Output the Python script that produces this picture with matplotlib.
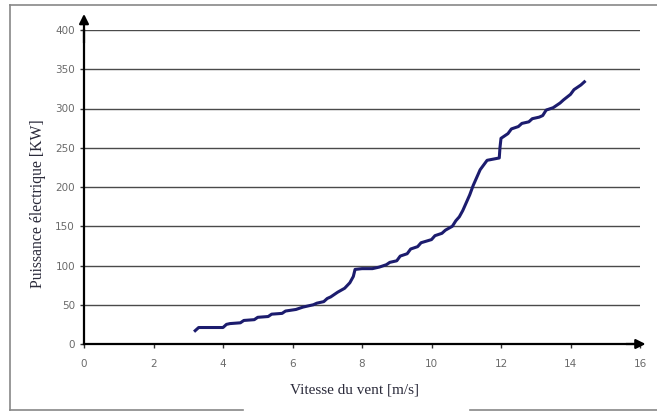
import matplotlib.pyplot as plt
from matplotlib.lines import Line2D

# wind speed [m/s] and electrical power [kW] along the measured power curve
vitesse = [3.2, 3.3, 3.5, 4.0, 4.1, 4.2, 4.5, 4.6, 4.9, 5.0, 5.3, 5.4,
           5.7, 5.8, 6.1, 6.3, 6.6, 6.7, 6.9, 7.0, 7.1, 7.3, 7.5, 7.65,
           7.75, 7.8, 8.0, 8.3, 8.5, 8.7, 8.8, 9.0, 9.1, 9.3, 9.4, 9.6,
           9.7, 10.0, 10.1, 10.3, 10.4, 10.6, 10.7, 10.8, 10.9, 11.0, 11.1,
           11.2, 11.3, 11.4, 11.5, 11.6, 11.95, 11.97, 12.0, 12.2, 12.3,
           12.5, 12.6, 12.8, 12.9, 13.1, 13.2, 13.3, 13.5, 13.7, 13.8,
           14.0, 14.1, 14.3, 14.4]
puissance = [17, 21, 21, 21, 25, 26, 27, 30, 31, 34, 35, 38,
             39, 42, 44, 47, 50, 52, 54, 58, 60, 66, 71, 78,
             86, 95, 96, 96, 98, 101, 104, 106, 112, 115, 121, 124,
             129, 133, 138, 141, 145, 150, 157, 162, 170, 180, 190,
             202, 212, 222, 228, 234, 237, 250, 262, 268, 274,
             277, 281, 283, 287, 289, 291, 298, 301, 307, 311,
             318, 324, 330, 334]

x_ticks = [0, 2, 4, 6, 8, 10, 12, 14, 16]
y_ticks = [0, 50, 100, 150, 200, 250, 300, 350, 400]

fig = plt.figure(figsize=(6.57, 4.12), dpi=100)
ax = fig.add_axes([84 / 657, 1 - 344 / 412, (640 - 84) / 657, (344 - 30) / 412])

for y in y_ticks[1:]:
    ax.axhline(y, color="#4a4a4a", lw=1.0, zorder=1)

ax.plot(vitesse, puissance, color="#1c1c6e", lw=2.2, zorder=3,
        solid_joinstyle="round")

ax.set_xlim(0, 16)
ax.set_ylim(0, 400)
ax.set_xticks(x_ticks)
ax.set_yticks(y_ticks)
ax.tick_params(axis="both", labelsize=7.5, labelcolor="#6a6a6a", length=3,
               color="#333333", width=1)
ax.tick_params(axis="x", pad=7.5)
for lab in ax.get_xticklabels() + ax.get_yticklabels():
    lab.set_family("DejaVu Sans")

for side in ["top", "right"]:
    ax.spines[side].set_visible(False)
ax.spines["left"].set_linewidth(1.6)
ax.spines["bottom"].set_linewidth(1.6)

# arrow heads at the ends of both axes
ax.annotate("", xy=(0, 1.06), xytext=(0, 0.95), xycoords="axes fraction",
            arrowprops=dict(arrowstyle="-|>", color="black", lw=1.6,
                            mutation_scale=14), annotation_clip=False)
ax.annotate("", xy=(1.015, 0), xytext=(0.97, 0), xycoords="axes fraction",
            arrowprops=dict(arrowstyle="-|>", color="black", lw=1.6,
                            mutation_scale=14), annotation_clip=False)

fig.text(38 / 657, 1 - 204 / 412, "Puissance électrique [KW]", rotation=90,
         ha="center", va="center", family="Liberation Serif", fontsize=11.3,
         color="#2a2a3a")
fig.text(355 / 657, 1 - 390 / 412, "Vitesse du vent [m/s]", ha="center",
         va="center", family="Liberation Serif", fontsize=11, color="#2a2a3a")

# frame around the figure
frame = dict(color="#888888", lw=1.2, transform=fig.transFigure)
fig.add_artist(Line2D([10 / 657, 10 / 657], [1 - 410 / 412, 1 - 5 / 412], **frame))
fig.add_artist(Line2D([10 / 657, 1], [1 - 5 / 412, 1 - 5 / 412], **frame))
fig.add_artist(Line2D([10 / 657, 243 / 657], [1 - 410 / 412, 1 - 410 / 412], **frame))
fig.add_artist(Line2D([470 / 657, 1], [1 - 410 / 412, 1 - 410 / 412], **frame))

fig.savefig("out.png", dpi=100)
